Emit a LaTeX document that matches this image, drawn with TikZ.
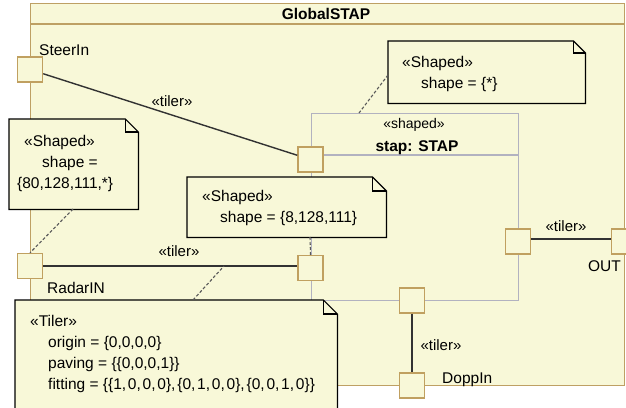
\documentclass[tikz,border=0pt]{standalone}
\usepackage{fontspec}
\setmainfont{Liberation Sans}
\definecolor{fillc}{RGB}{248,248,216}
\definecolor{portc}{RGB}{192,160,96}
\definecolor{framec}{RGB}{190,160,100}
\definecolor{stapc}{RGB}{178,178,192}
\definecolor{connc}{RGB}{50,50,50}
\newcommand\mynote[2]{%
  \draw[notel] (#1.north west) -- ([xshift=-#2pt]#1.north east) -- ([yshift=-#2pt]#1.north east) -- (#1.south east) -- (#1.south west) -- cycle;
  \draw[notel, fill=none] ([xshift=-#2pt]#1.north east) |- ([yshift=-#2pt]#1.north east);}
\newcommand\cm{,\kern1.8pt}
\tikzset{
  txt/.style={font=\fontsize{15.5}{18}\selectfont, inner sep=0, anchor=base west},
  small/.style={font=\fontsize{14}{16}\selectfont, inner sep=0, anchor=base},
  boldt/.style={font=\fontsize{15.5}{18}\selectfont\bfseries, inner sep=0, anchor=base},
  tilerlbl/.style={font=\fontsize{15}{18}\selectfont, inner sep=0, anchor=base},
  port/.style={draw=portc, fill=fillc, line width=1.4, minimum size=25, inner sep=0},
  conn/.style={draw=connc, line width=1.4},
  notebg/.style={draw=none, inner sep=0, anchor=north west},
  notel/.style={draw=black, fill=fillc, line width=1.2},
  anchorline/.style={draw=black!65, line width=1.1, dash pattern=on 3pt off 2pt},
  framebox/.style={draw=framec, fill=fillc, line width=1.4, inner sep=0, anchor=north west},
  stapbox/.style={draw=stapc, fill=fillc, line width=1.3, inner sep=0, anchor=north west},
}
\begin{document}
\begin{tikzpicture}[x=1pt, y=-1pt]
\useasboundingbox (0,0) rectangle (626,407);
\clip (0,0) rectangle (626,407);
\fill[white] (0,0) rectangle (626,407);
% outer frame
\node[framebox, minimum width=594, minimum height=382] (g) at (30,3) {};
\draw[draw=framec, line width=1.4] (30,24) -- (624,24);
\node[boldt] (gt) at (326,19) {GlobalSTAP};
% stap part
\node[stapbox, minimum width=207, minimum height=187] (stap) at (311,113) {};
\draw[draw=stapc, line width=1.3] (311,155) -- (518,155);
\node[small] (st1) at (414,128) {«shaped»};
\node[boldt] (st2) at (417,151) {stap: STAP};
% ports
\node[port] (sp) at (30,69.5) {};
\node[port] (rp) at (30,266) {};
\node[port] (p1) at (310.5,159.5) {};
\node[port] (p2) at (310.5,268) {};
\node[port] (p3) at (412,300.5) {};
\node[port] (p4) at (518,241.5) {};
\node[port] (op) at (624,241.5) {};
\node[port] (dp) at (412,385.5) {};
% connectors
\draw[conn] (sp) -- (p1);
\draw[conn] (rp.east) -- (rp.east -| p2.west);
\draw[conn] (p3) -- (dp);
\draw[conn] ([yshift=2.5pt]p4.east) -- ([yshift=2.5pt]p4.east -| op.west);
\node[tilerlbl] (t1) at (172,106) {«tiler»};
\node[tilerlbl] (t2) at (179,256) {«tiler»};
\node[tilerlbl] (t3) at (441,350) {«tiler»};
\node[tilerlbl] (t4) at (566,231) {«tiler»};
% port labels
\node[txt] (l1) at (39,55) {SteerIn};
\node[txt] (l2) at (47,293) {RadarIN};
\node[txt] (l3) at (442,383) {DoppIn};
\node[txt, anchor=base east] (l4) at (621,271) {OUT};
% notes
\node[notebg, minimum width=197, minimum height=62] (n1) at (388,41) {};
\mynote{n1}{12}
\node[txt] (n1a) at (402,67) {«Shaped»};
\node[txt] (n1b) at (421,88) {shape = \{*\}};
\node[notebg, minimum width=129, minimum height=90] (n2) at (9,119) {};
\mynote{n2}{13}
\node[txt] (n2a) at (24,146) {«Shaped»};
\node[txt] (n2b) at (42,167) {shape =};
\node[txt] (n2c) at (17,188) {\{80,128,111,*\}};
\node[notebg, minimum width=199, minimum height=60] (n3) at (187,177) {};
\mynote{n3}{14}
\node[txt] (n3a) at (202,201) {«Shaped»};
\node[txt] (n3b) at (220,222) {shape = \{8,128,111\}};
\node[notebg, minimum width=322, minimum height=130] (n4) at (15,300) {};
\mynote{n4}{14}
\node[txt] (n4a) at (30,326) {«Tiler»};
\node[txt] (n4b) at (48,347) {origin = \{0,0,0,0\}};
\node[txt] (n4c) at (48,368) {paving = \{\{0,0,0,1\}\}};
\node[txt] (n4d) at (48,389) {fitting = \{\{1\cm0\cm0\cm0\}\cm\{0\cm1\cm0\cm0\}\cm\{0\cm0\cm1\cm0\}\}};
% note anchors
\coordinate (a1s) at (388,75);
\coordinate (a1e) at (359,113);
\draw[anchorline] (a1s) -- (a1e);
\coordinate (a2s) at (73,209);
\draw[anchorline] (a2s) -- (rp.north);
\coordinate (a3s) at (310,237);
\draw[anchorline] (a3s) -- (p2.north);
\coordinate (a4s) at (193,300);
\coordinate (a4e) at (224,266);
\draw[anchorline] (a4s) -- (a4e);
\end{tikzpicture}
\end{document}
